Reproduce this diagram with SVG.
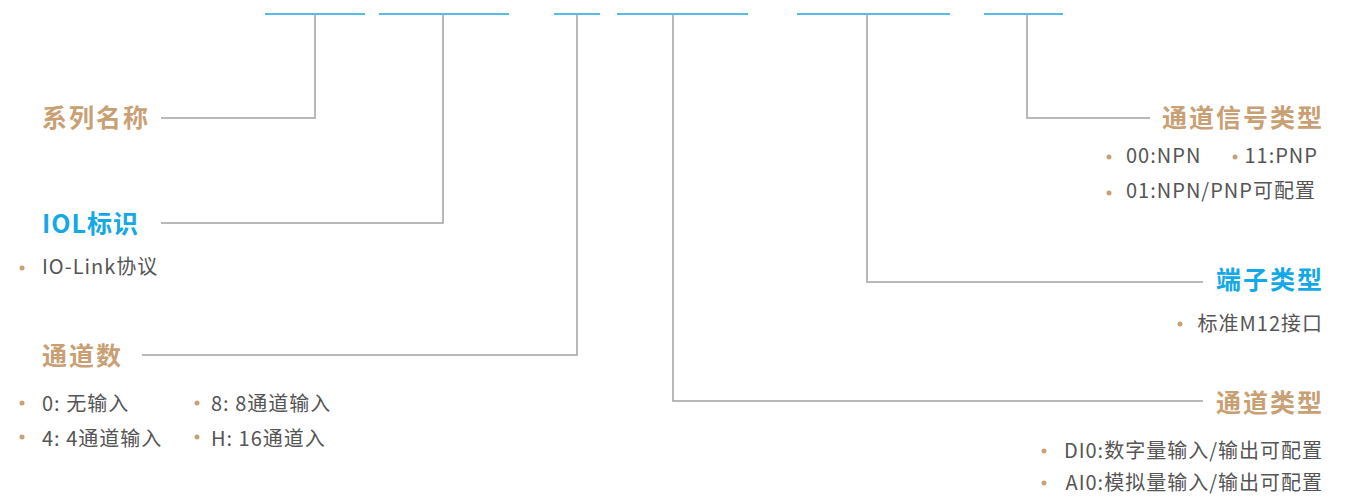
<svg xmlns="http://www.w3.org/2000/svg" width="1358" height="497" viewBox="0 0 1358 497">
<style>
.bar{stroke:#1fa4e0;stroke-width:1.5;fill:none}
.con{stroke:#a3a3a3;stroke-width:1.5;fill:none}
.h{font-family:"Noto Sans CJK SC","Noto Sans",sans-serif;font-size:25px;font-weight:700;letter-spacing:2px}
.tan{fill:#c9a073}
.blue{fill:#13a8e6}
.it{font-family:"Noto Sans CJK SC","Noto Sans",sans-serif;font-size:20px;letter-spacing:1px;fill:#555555}
.dot{fill:#c9a073}
</style>
<rect width="1358" height="497" fill="#ffffff"/>
<g id="code-bars">
<line class="bar" x1="265" y1="14" x2="365" y2="14"/>
<line class="bar" x1="379" y1="14" x2="509" y2="14"/>
<line class="bar" x1="554" y1="14" x2="600" y2="14"/>
<line class="bar" x1="617" y1="14" x2="748" y2="14"/>
<line class="bar" x1="797" y1="14" x2="950" y2="14"/>
<line class="bar" x1="984" y1="14" x2="1063" y2="14"/>
</g>
<g id="connectors">
<polyline class="con" points="315,15 315,118 161,118"/>
<polyline class="con" points="443,15 443,223 161,223"/>
<polyline class="con" points="577,15 577,355 142,355"/>
<polyline class="con" points="673,15 673,401 1203,401"/>
<polyline class="con" points="867,15 867,282 1203,282"/>
<polyline class="con" points="1027,15 1027,118 1150,118"/>
</g>
<g id="series-name">
<text class="h tan" x="42" y="127">系列名称</text>
</g>
<g id="iol-flag">
<text class="h blue" x="42" y="233" style="letter-spacing:1px">IOL标识</text>
<circle class="dot" cx="22" cy="268" r="2.5"/>
<text class="it" x="42" y="274">IO-Link协议</text>
</g>
<g id="channel-count">
<text class="h tan" x="42" y="365">通道数</text>
<circle class="dot" cx="22" cy="403" r="2.5"/>
<text class="it" x="42" y="411">0: 无输入</text>
<circle class="dot" cx="197" cy="403" r="2.5"/>
<text class="it" x="211" y="411">8: 8通道输入</text>
<circle class="dot" cx="22" cy="437" r="2.5"/>
<text class="it" x="42" y="446">4: 4通道输入</text>
<circle class="dot" cx="197" cy="437" r="2.5"/>
<text class="it" x="211" y="446">H: 16通道入</text>
</g>
<g id="signal-type">
<text class="h tan" x="1162" y="127">通道信号类型</text>
<circle class="dot" cx="1109" cy="157" r="2.5"/>
<text class="it" x="1126" y="163">00:NPN</text>
<circle class="dot" cx="1235" cy="157" r="2.5"/>
<text class="it" x="1318" y="163" text-anchor="end">11:PNP</text>
<circle class="dot" cx="1109" cy="193" r="2.5"/>
<text class="it" x="1126" y="198">01:NPN/PNP可配置</text>
</g>
<g id="terminal-type">
<text class="h blue" x="1216" y="289">端子类型</text>
<circle class="dot" cx="1180" cy="324" r="2.5"/>
<text class="it" x="1323" y="331" text-anchor="end">标准M12接口</text>
</g>
<g id="channel-type">
<text class="h tan" x="1216" y="412">通道类型</text>
<circle class="dot" cx="1044" cy="451" r="2.5"/>
<text class="it" x="1323" y="458" text-anchor="end">DI0:数字量输入/输出可配置</text>
<circle class="dot" cx="1044" cy="483" r="2.5"/>
<text class="it" x="1323" y="490" text-anchor="end">AI0:模拟量输入/输出可配置</text>
</g>
</svg>
